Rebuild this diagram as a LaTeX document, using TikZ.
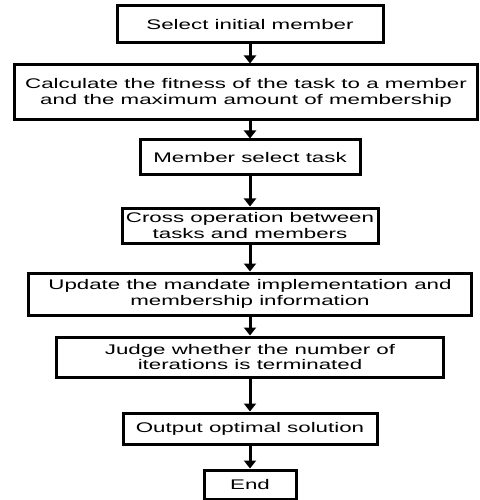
\documentclass[tikz,border=0pt]{standalone}
\usepackage{fontspec}
\setmainfont{Liberation Sans}[FakeStretch=1.6]
\usetikzlibrary{arrows.meta}

\tikzset{
    stepbox/.style={draw, line width=3bp, align=center, inner sep=0pt, font=\fontsize{14}{16}\selectfont},
    flow/.style={line width=3bp, -{Triangle[width=12bp, length=8bp]}}
}

\begin{document}
\begin{tikzpicture}[x=1bp, y=-1bp]
        \useasboundingbox (0, 0) rectangle (480, 500);
        % draw steps of the flow
        \node[stepbox, minimum width=266bp, minimum height=37bp] (select) at (250, 24.5) {Select initial member};
        \node[stepbox, minimum width=462bp, minimum height=55bp] (fitness) at (246, 92.5) {Calculate the fitness of the task to a member\\and the maximum amount of membership};
        \node[stepbox, minimum width=220bp, minimum height=35bp] (choose) at (250, 157.5) {Member select task};
        \node[stepbox, minimum width=256bp, minimum height=35bp] (cross) at (250, 225.5) {Cross operation between\\tasks and members};
        \node[stepbox, minimum width=442bp, minimum height=42bp] (update) at (250, 294) {Update the mandate implementation and\\membership information};
        \node[stepbox, minimum width=386bp, minimum height=40bp] (judge) at (250, 357) {Judge whether the number of\\iterations is terminated};
        \node[stepbox, minimum width=254bp, minimum height=31bp] (output) at (250, 428.5) {Output optimal solution};
        \node[stepbox, minimum width=92bp, minimum height=29bp] (end) at (250, 484.5) {End};
        % draw arrows between steps
        \draw[flow] (select.south) -- (select.south |- fitness.north);
        \draw[flow] (fitness.south -| choose) -- (choose.north);
        \draw[flow] (choose.south) -- (cross.north);
        \draw[flow] (cross.south) -- (update.north);
        \draw[flow] (update.south) -- (judge.north);
        \draw[flow] (judge.south) -- (output.north);
        \draw[flow] (output.south) -- (end.north);
    \end{tikzpicture}
\end{document}
